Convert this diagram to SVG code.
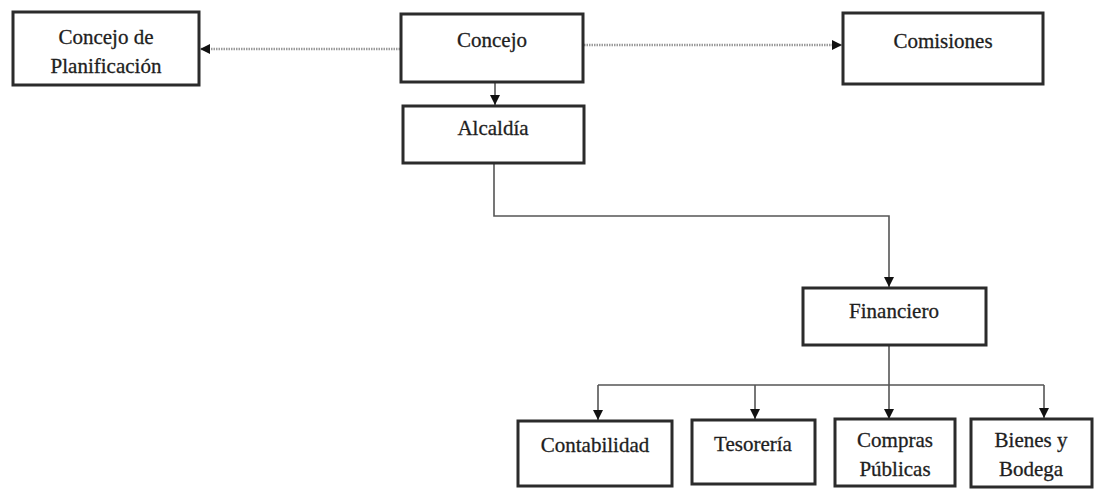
<svg xmlns="http://www.w3.org/2000/svg" width="1096" height="492" viewBox="0 0 1096 492">
  <defs>
    <marker id="arrow" viewBox="0 0 10 10" refX="10" refY="5" markerWidth="10" markerHeight="10" markerUnits="userSpaceOnUse" orient="auto">
      <path d="M0,0 L10,5 L0,10 Z" fill="#111"/>
    </marker>
    <style>
      .box { fill: #fff; stroke: #2b2b2b; stroke-width: 3; }
      .lbl { font-family: "Liberation Serif", "Times New Roman", "DejaVu Serif", serif; font-size: 21px; fill: #1e1e1e; text-anchor: middle; stroke: #1e1e1e; stroke-width: 0.3; }
      .dot { fill: none; stroke: #9a9a9a; stroke-width: 2.5; stroke-dasharray: 1.5 1; }
      .ln  { fill: none; stroke: #555; stroke-width: 1.6; }
    </style>
  </defs>
  <rect width="1096" height="492" fill="#fff"/>

  <g id="connectors">
    <line class="dot" x1="400" y1="49" x2="200" y2="49" marker-end="url(#arrow)"/>
    <line class="dot" x1="584" y1="45" x2="842" y2="45" marker-end="url(#arrow)"/>
    <line class="ln" x1="495" y1="82" x2="495" y2="105" marker-end="url(#arrow)"/>
    <polyline class="ln" points="494,163 494,216 889,216 889,287" marker-end="url(#arrow)"/>
    <line class="ln" x1="889" y1="345" x2="889" y2="419" marker-end="url(#arrow)"/>
    <line class="ln" x1="598" y1="385" x2="1044" y2="385"/>
    <line class="ln" x1="598" y1="385" x2="598" y2="420" marker-end="url(#arrow)"/>
    <line class="ln" x1="755" y1="385" x2="755" y2="419" marker-end="url(#arrow)"/>
    <line class="ln" x1="1044" y1="385" x2="1044" y2="418" marker-end="url(#arrow)"/>
  </g>

  <g id="concejo-planificacion">
    <rect class="box" x="13" y="12" width="186" height="73"/>
    <text class="lbl" x="106" y="44" font-family="Liberation Serif, serif">Concejo de</text>
    <text class="lbl" x="106" y="73" font-family="Liberation Serif, serif">Planificación</text>
  </g>
  <g id="concejo">
    <rect class="box" x="401" y="14" width="182" height="68"/>
    <text class="lbl" x="492" y="47" font-family="Liberation Serif, serif">Concejo</text>
  </g>
  <g id="comisiones">
    <rect class="box" x="843" y="13" width="200" height="71"/>
    <text class="lbl" x="943" y="48" font-family="Liberation Serif, serif">Comisiones</text>
  </g>
  <g id="alcaldia">
    <rect class="box" x="403" y="106" width="181" height="57"/>
    <text class="lbl" x="493" y="135" font-family="Liberation Serif, serif">Alcaldía</text>
  </g>
  <g id="financiero">
    <rect class="box" x="803" y="288" width="183" height="57"/>
    <text class="lbl" x="894" y="318" font-family="Liberation Serif, serif">Financiero</text>
  </g>
  <g id="contabilidad">
    <rect class="box" x="518" y="421" width="154" height="65"/>
    <text class="lbl" x="595" y="452" font-family="Liberation Serif, serif">Contabilidad</text>
  </g>
  <g id="tesoreria">
    <rect class="box" x="692" y="420" width="123" height="64"/>
    <text class="lbl" x="753" y="451" font-family="Liberation Serif, serif">Tesorería</text>
  </g>
  <g id="compras-publicas">
    <rect class="box" x="835" y="419" width="120" height="67"/>
    <text class="lbl" x="895" y="447" font-family="Liberation Serif, serif">Compras</text>
    <text class="lbl" x="895" y="476" font-family="Liberation Serif, serif">Públicas</text>
  </g>
  <g id="bienes-bodega">
    <rect class="box" x="971" y="419" width="121" height="68"/>
    <text class="lbl" x="1031" y="447" font-family="Liberation Serif, serif">Bienes y</text>
    <text class="lbl" x="1031" y="476" font-family="Liberation Serif, serif">Bodega</text>
  </g>
</svg>
